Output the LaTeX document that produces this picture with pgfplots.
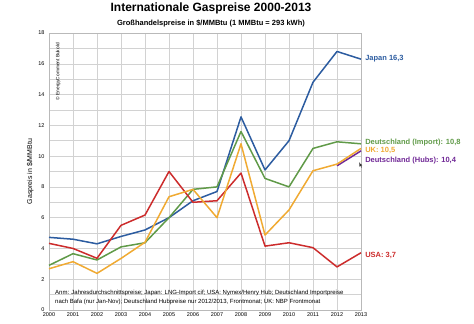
\documentclass[border=0pt]{standalone}
\usepackage{pgfplots}
\pgfplotsset{compat=1.18}
\usepackage{pgfplotstable}
\usepackage{fontspec}
\setmainfont{Liberation Sans}
\definecolor{cJapan}{RGB}{44,92,160}
\definecolor{cDE}{RGB}{96,154,72}
\definecolor{cUK}{RGB}{240,170,50}
\definecolor{cUSA}{RGB}{204,44,44}
\definecolor{cHub}{RGB}{112,40,150}
\pgfplotstableread{
year Japan DEimp UK USA
2000 4.72 2.90 2.68 4.33
2001 4.60 3.66 3.14 4.00
2002 4.30 3.25 2.38 3.36
2003 4.78 4.10 3.35 5.50
2004 5.20 4.37 4.40 6.17
2005 6.00 6.00 7.36 9.00
2006 7.10 7.84 7.84 7.00
2007 7.70 8.00 6.00 7.10
2008 12.55 11.60 10.80 8.90
2009 9.10 8.55 4.87 4.15
2010 11.00 8.00 6.50 4.37
2011 14.80 10.50 9.05 4.05
2012 16.80 10.93 9.48 2.80
2013 16.30 10.80 10.50 3.72
}\gasdata
\pgfplotstableread{
year Hub
2012 9.37
2013 10.34
}\hubdata
\begin{document}
\begin{tikzpicture}
\begin{axis}[
  name=ax,
  scale only axis,
  width=312pt, height=277pt,
  xmin=2000, xmax=2013, ymin=0, ymax=18,
  xtick={2000,...,2013},
  ytick={0,2,...,18},
  minor ytick={1,3,...,17},
  grid=both,
  major grid style={gray!35, line width=0.5pt},
  minor grid style={gray!35, line width=0.5pt},
  axis line style={gray!55, line width=0.5pt},
  major tick length=0pt, minor tick length=0pt,
  tick label style={font=\fontsize{5.5}{6.5}\selectfont},
  /pgf/number format/assume math mode=true,
  /pgf/number format/1000 sep={},
  xticklabel style={yshift=1pt},
  yticklabel style={xshift=-1pt},
  ylabel={Gaspreis in \$/MMBtu},
  ylabel style={font=\fontsize{7}{8}\selectfont, yshift=-2pt},
  clip=false,
  every axis plot/.append style={line width=1.5pt, mark=none, line join=round},
]
\addplot[cJapan] table[x=year, y=Japan] {\gasdata};
\addplot[cDE] table[x=year, y=DEimp] {\gasdata};
\addplot[cUSA] table[x=year, y=USA] {\gasdata};
\addplot[cHub] table[x=year, y=Hub] {\hubdata};
\addplot[cUK] table[x=year, y=UK] {\gasdata};

\node[anchor=west, font=\bfseries\fontsize{7.5}{9}\selectfont, text=cJapan, inner sep=0pt] at (axis cs:2013.17,16.36) {Japan 16,3};
\node[anchor=west, font=\bfseries\fontsize{7.5}{9}\selectfont, text=cDE, inner sep=0pt] at (axis cs:2013.17,10.9) {Deutschland (Import): 10,8};
\node[anchor=west, font=\bfseries\fontsize{7.5}{9}\selectfont, text=cUK, inner sep=0pt] at (axis cs:2013.17,10.35) {UK: 10,5};
\node[anchor=west, font=\bfseries\fontsize{7.5}{9}\selectfont, text=cHub, inner sep=0pt] at (axis cs:2013.17,9.74) {Deutschland (Hubs): 10,4};
\node[anchor=west, font=\bfseries\fontsize{7.5}{9}\selectfont, text=cUSA, inner sep=0pt] at (axis cs:2013.17,3.57) {USA: 3,7};
\draw[-{latex}, line width=0.4pt, black!80] (axis cs:2013.03,9.25) -- (axis cs:2012.92,9.6);

\node[anchor=west, font=\fontsize{6}{7}\selectfont, inner sep=0pt] at (axis cs:2000.25,1.1) {Anm: Jahresdurchschnittspreise; Japan: LNG-Import cif; USA: Nymex/Henry Hub; Deutschland Importpreise};
\node[anchor=west, font=\fontsize{6}{7}\selectfont, inner sep=0pt] at (axis cs:2000.25,0.52) {nach Bafa (nur Jan-Nov); Deutschland Hubpreise nur 2012/2013, Frontmonat; UK: NBP Frontmonat};
\node[rotate=90, font=\fontsize{4.8}{5.5}\selectfont, inner sep=0pt, anchor=east] at (axis cs:2000.38,17.35) {© EnergyComment Bukold};
\end{axis}
\node[font=\bfseries\fontsize{12}{14}\selectfont] at ([xshift=6pt,yshift=25pt]ax.north) {Internationale Gaspreise 2000-2013};
\node[font=\bfseries\fontsize{7.5}{9}\selectfont] at ([xshift=6pt,yshift=10pt]ax.north) {Großhandelspreise in \$/MMBtu (1 MMBtu = 293 kWh)};
\pgfresetboundingbox
\path ([xshift=-49pt,yshift=-14pt]ax.south west) rectangle ([xshift=113pt,yshift=33pt]ax.north east);
\end{tikzpicture}
\end{document}
